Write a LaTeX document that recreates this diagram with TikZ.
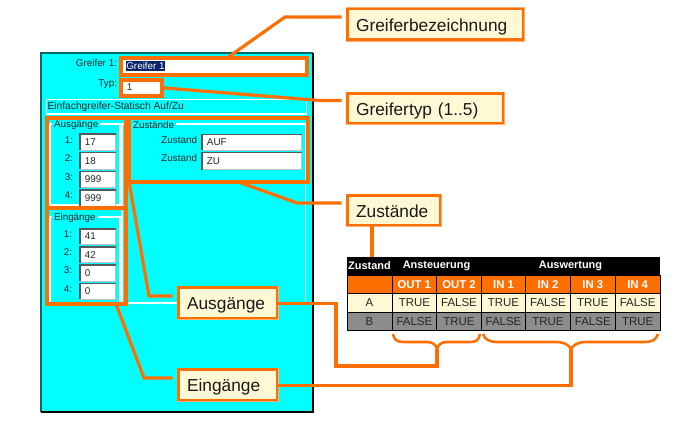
\documentclass[tikz,border=0pt]{standalone}
\usepackage{fontspec}
\setmainfont{Liberation Sans}
\definecolor{org}{HTML}{FF6E00}
\definecolor{orgl}{HTML}{FFB070}
\definecolor{cy}{HTML}{00FFFF}
\definecolor{cream}{HTML}{FFF8D5}
\definecolor{rowb}{HTML}{8C8C8C}
\definecolor{sel}{HTML}{0A246A}
\tikzset{
  every node/.style={inner sep=0pt,outer sep=0pt},
  ui/.style={font=\fontsize{7.4}{9}\selectfont,text=black!85},
  mark box/.style={draw=org,line width=3pt},
  conn/.style={draw=org,line width=2.4pt,line join=miter},
  callout/.style={draw=org,line width=2.2pt,fill=cream,font=\fontsize{13}{15}\selectfont,text=black!90,preaction={draw=orgl,line width=3pt}},
  frame/.style={draw=white,line width=0.8pt,preaction={draw=black!45,line width=1.3pt}},
  cell/.style={draw=black,line width=0.75pt,font=\fontsize{8.6}{10}\selectfont,text=black!85},
  headcell/.style={fill=black,text=white,font=\bfseries\fontsize{8.2}{10}\selectfont},
  outcell/.style={cell,fill=org,text=white,font=\bfseries\fontsize{8.5}{10}\selectfont},
}
% name, x1,y1,x2,y2, style, text
\newcommand{\bx}[7]{\node[#6,minimum width={(#4-#2)*0.75pt},minimum height={(#5-#3)*0.75pt}] (#1) at ({(#2+#4)/2},{(#3+#5)/2}) {#7};}
% callout with left-set text: name, x1,y1,x2,y2, text
\newcommand{\cb}[6]{\node[callout,inner xsep=6.4pt,text width={(#4-#2)*0.75pt-12.8pt},align=left,text height=12.8pt,text depth=2pt,minimum height={(#5-#3)*0.75pt}] (#1) at ({(#2+#4)/2},{(#3+#5)/2}) {#6};}
% sunken input field: name, x1,y1,x2,y2, text
\newcommand{\fld}[6]{%
  \node[draw=black!25,line width=0.6pt,fill=white,ui,minimum width={(#4-#2)*0.75pt},minimum height={(#5-#3)*0.75pt},
        text width={(#4-#2)*0.75pt-3pt},align=left] (#1) at ({(#2+#4)/2},{(#3+#5)/2}) {\hspace*{2.2pt}#6};
  \draw[black!65,line width=0.9pt] (#1.south west) -- (#1.north west) -- (#1.north east);}
\begin{document}
\begin{tikzpicture}[x=0.75pt,y=-0.75pt]
\useasboundingbox (0,0) rectangle (684,440);
\fill[white] (0,0) rectangle (684,440);
% panel
\bx{panel}{41}{53}{313}{411.5}{fill=cy,draw=none}{}
\draw[teal!80!black,line width=0.8pt] (panel.south west) -- (panel.north west) -- (panel.north east);
\draw[black,line width=1.5pt] (panel.north east) -- (panel.south east) -- (panel.south west);
% texts and fields
\node[ui,anchor=east] (lName) at (117,63) {Greifer 1:};
\node[ui,anchor=east] (lTyp) at (117,84) {Typ:};
\fld{fName}{122}{59}{305}{73}{}
\bx{fSel}{126}{61}{165}{71}{fill=sel,ui,text=white}{Greifer 1}
\fld{fTyp}{122}{81}{161}{94}{1}
\bx{fDesc}{46.5}{99.5}{306.5}{114}{frame,fill=cy}{}
\node[ui,anchor=west,font=\fontsize{7.7}{9}\selectfont] (tDesc) at (47.5,106.5) {Einfachgreifer-Statisch Auf/Zu};
% group frames
\bx{gAus}{50}{124}{120}{205}{frame}{}
\bx{gEin}{50}{217}{120}{303}{frame}{}
\bx{gZus}{122}{124}{305.5}{303}{frame}{}
\node[ui,fill=cy,anchor=west,inner xsep=1.5pt] (cAus) at (52,125) {Ausgänge};
\node[ui,fill=cy,anchor=west,inner xsep=1.5pt] (cEin) at (52,218) {Eingänge};
\node[ui,fill=cy,anchor=west,inner xsep=1.5pt] (cZus) at (131,124.5) {Zustände};
\node[ui,anchor=east] (a1) at (73,140) {1:};
\node[ui,anchor=east] (a2) at (73,158) {2:};
\node[ui,anchor=east] (a3) at (73,177) {3:};
\node[ui,anchor=east] (a4) at (73,195) {4:};
\fld{fa1}{80}{134}{115.5}{150}{17}
\fld{fa2}{80}{152.5}{115.5}{169}{18}
\fld{fa3}{80}{171.5}{115.5}{187.5}{999}
\fld{fa4}{80}{190}{115.5}{206}{999}
\node[ui,anchor=east] (e1) at (72,234) {1:};
\node[ui,anchor=east] (e2) at (72,252) {2:};
\node[ui,anchor=east] (e3) at (72,270) {3:};
\node[ui,anchor=east] (e4) at (72,289) {4:};
\fld{fe1}{80}{229}{115.5}{244}{41}
\fld{fe2}{80}{247}{115.5}{262.5}{42}
\fld{fe3}{80}{265}{115.5}{281}{0}
\fld{fe4}{80}{283.5}{115.5}{299}{0}
\node[ui,anchor=east] (z1) at (197,139.5) {Zustand};
\node[ui,anchor=east] (z2) at (197,158) {Zustand};
\fld{fz1}{202}{134.5}{301.5}{150}{AUF}
\fld{fz2}{202}{152.5}{301.5}{169.5}{ZU}
% orange highlight rectangles
\bx{hName}{121}{58}{307}{74.5}{mark box}{}
\bx{hTyp}{121}{80}{162}{95.5}{mark box}{}
\bx{hAus}{47}{118}{126}{208}{mark box}{}
\bx{hEin}{47}{208}{126}{304}{mark box}{}
\bx{hZus}{129}{118}{307.5}{181.5}{mark box}{}
% bends
\coordinate (k1) at (285,17);
\coordinate (k2) at (320,100.5);
\coordinate (k3) at (297,203);
\coordinate (k4) at (149,296);
\coordinate (k5) at (144,378);
\coordinate (k6) at (336,303.5);
\coordinate (k7) at (336,366);
\coordinate (k8) at (571,385.5);
\coordinate (t1) at (437,349);
\coordinate (t2) at (571,349);
% callouts
\cb{bName}{347.5}{9}{523}{39.5}{Greiferbezeichnung}
\cb{bTyp}{347.5}{93.5}{503}{123}{Greifertyp (1..5)}
\cb{bZus}{347.5}{195.5}{440}{225}{Zustände}
\cb{bAus}{178.5}{287.5}{277}{318}{Ausgänge}
\cb{bEin}{178.5}{369.5}{277}{400}{Eingänge}
% connectors
\draw[conn] ([xshift=0.75pt*(227-214)]hName.north) -- (k1) -- ([xshift=-4.5pt]bName.west |- k1);
\draw[conn] (hTyp.east) -- (k2) -- ([xshift=-4.5pt]bTyp.west |- k2);
\draw[conn] ([xshift=0.75pt*19]hZus.south) -- (k3) -- ([xshift=-4.5pt]bZus.west |- k3);
\draw[conn] (hZus.south west) -- (k4) -- ([xshift=-4.5pt]bAus.west |- k4);
\draw[conn] ([xshift=0.75pt*29.5]hEin.south) -- (k5) -- ([xshift=-4.5pt]bEin.west |- k5);
% table
\foreach \n/\a/\b/\t in {h0/347/392/Zustand,h1/392/481/Ansteuerung,h2/481/660/Auswertung}{
  \bx{\n}{\a}{256.5}{\b}{275}{headcell}{\t}}
\foreach \n/\a/\b/\t in {o0/347/392/{},o1/392/436.7/OUT 1,o2/436.7/481.3/OUT 2,o3/481.3/525.7/IN 1,o4/525.7/570.3/IN 2,o5/570.3/615.3/IN 3,o6/615.3/660/IN 4}{
  \bx{\n}{\a}{275}{\b}{293.5}{outcell}{\t}}
\foreach \n/\a/\b/\t in {r0/347/392/A,r1/392/436.7/TRUE,r2/436.7/481.3/FALSE,r3/481.3/525.7/TRUE,r4/525.7/570.3/FALSE,r5/570.3/615.3/TRUE,r6/615.3/660/FALSE}{
  \bx{\n}{\a}{293.5}{\b}{312}{cell,fill=cream}{\t}}
\foreach \n/\a/\b/\t in {s0/347/392/B,s1/392/436.7/FALSE,s2/436.7/481.3/TRUE,s3/481.3/525.7/FALSE,s4/525.7/570.3/TRUE,s5/570.3/615.3/FALSE,s6/615.3/660/TRUE}{
  \bx{\n}{\a}{312}{\b}{330.5}{cell,fill=rowb}{\t}}
\draw[conn] (bZus.south -| 372,0) -- (h0.north -| 372,0);
\draw[conn] (bAus.east |- k6) -- (k6) -- (k7) -- (k7 -| t1) -- (t1);
\draw[conn] (bEin.east |- k8) -- (k8) -- (t2);
% braces
\draw[org,line width=1.9pt] (393,334) .. controls (394,340) and (397,342) .. (404,342) -- (427,342) .. controls (433,342) and (436,345) .. (437,349) .. controls (438,345) and (441,342) .. (447,342) -- (470,342) .. controls (476,342) and (479,340) .. (480,334);
\draw[org,line width=1.9pt] (483,334) .. controls (485,340) and (490,342) .. (498,342) -- (556,342) .. controls (564,342) and (569,345) .. (571,349) .. controls (573,345) and (578,342) .. (586,342) -- (644,342) .. controls (652,342) and (656,340) .. (658,334);
\end{tikzpicture}
\end{document}
